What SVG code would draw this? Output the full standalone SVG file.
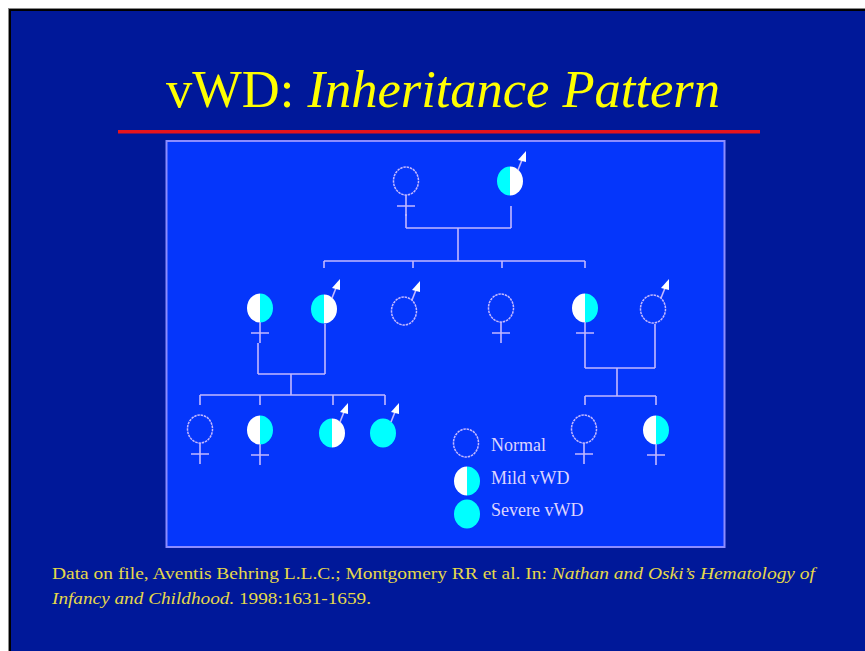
<svg xmlns="http://www.w3.org/2000/svg" xmlns:xlink="http://www.w3.org/1999/xlink" width="865" height="651" viewBox="0 0 865 651">
<style>
.ln{stroke:#c4b8ff;stroke-width:1.6;fill:none}
.open{fill:none;stroke:#c4b8ff;stroke-width:1.5;stroke-dasharray:2.5 0.8}
.cy{fill:#00ffff}
.wh{fill:#ffffff}
.title{font-family:"Liberation Serif",serif;font-size:52px;fill:#ffff00}
.leg{font-family:"Liberation Serif",serif;font-size:18px;fill:#ddd4ff}
.foot{font-family:"Liberation Serif",serif;font-size:16px;fill:#e6d84a}
</style>
<defs>
<g id="hwc"><path class="wh" d="M0,-14.5 A13,14.5 0 0 0 0,14.5 Z"/><path class="cy" d="M0,-14.5 A13,14.5 0 0 1 0,14.5 Z"/></g>
<g id="hcw"><path class="cy" d="M0,-14.5 A13,14.5 0 0 0 0,14.5 Z"/><path class="wh" d="M0,-14.5 A13,14.5 0 0 1 0,14.5 Z"/></g>
<g id="full"><ellipse class="cy" cx="0" cy="0" rx="13" ry="14.5"/></g>
<g id="open"><ellipse class="open" cx="0" cy="0" rx="12.5" ry="14"/></g>
<g id="cross"><path class="ln" d="M0,14 V35 M-9,25 H9"/></g>
<g id="arrow"><path class="ln" d="M8,-11 L12,-21" stroke="#ffffff"/><path d="M16,-30 L8,-21 L16,-19 Z" fill="#ffffff"/></g>
</defs>
<rect x="0" y="0" width="865" height="651" fill="#ffffff"/>
<rect x="8" y="8" width="857" height="643" fill="#8a8a8a"/>
<rect x="9" y="9" width="856" height="642" fill="#000000"/>
<rect x="11" y="11" width="854" height="640" fill="#001899"/>
<text class="title" x="166" y="107" textLength="554" lengthAdjust="spacingAndGlyphs">vWD: <tspan font-style="italic">Inheritance Pattern</tspan></text>
<rect x="118" y="130" width="642" height="3.5" fill="#e8141c"/>
<rect x="166.5" y="141" width="558" height="406" fill="#0536fb" stroke="#8c8cff" stroke-width="2"/>
<g id="connectors">
<path class="ln" d="M406,214 V228 M511,206 V228 M406,228 H511 M458,228 V261 M324,261 H585 M324,261 V268 M413,261 V268 M502,261 V268 M585,261 V268"/>
<path class="ln" d="M258,343 V374 M325,324 V374 M258,374 H325 M291,374 V395 M200,395 H385 M200,395 V405 M260,395 V405 M333,395 V405 M385,395 V405"/>
<path class="ln" d="M585,343 V368 M655,324 V368 M585,368 H655 M617,368 V396 M585,396 H656 M585,396 V405 M656,396 V405"/>
</g>
<g id="g1-female"><use xlink:href="#open" x="406" y="181"/><use xlink:href="#cross" x="406" y="181"/></g>
<g id="g1-male"><use xlink:href="#hcw" x="510" y="181"/><use xlink:href="#arrow" x="510" y="181"/></g>
<g id="g2-f1"><use xlink:href="#hwc" x="260" y="308"/><use xlink:href="#cross" x="260" y="308"/></g>
<g id="g2-m1"><use xlink:href="#hcw" x="324" y="309"/><use xlink:href="#arrow" x="324" y="309"/></g>
<g id="g2-m2"><use xlink:href="#open" x="404" y="311"/><use xlink:href="#arrow" x="404" y="311"/></g>
<g id="g2-f2"><use xlink:href="#open" x="501" y="308"/><use xlink:href="#cross" x="501" y="308"/></g>
<g id="g2-f3"><use xlink:href="#hwc" x="585" y="308"/><use xlink:href="#cross" x="585" y="308"/></g>
<g id="g2-m3"><use xlink:href="#open" x="653" y="309"/><use xlink:href="#arrow" x="653" y="309"/></g>
<g id="g3-f1"><use xlink:href="#open" x="200" y="429"/><use xlink:href="#cross" x="200" y="429"/></g>
<g id="g3-f2"><use xlink:href="#hwc" x="260" y="430"/><use xlink:href="#cross" x="260" y="430"/></g>
<g id="g3-m1"><use xlink:href="#hcw" x="332" y="433"/><use xlink:href="#arrow" x="332" y="433"/></g>
<g id="g3-m2"><use xlink:href="#full" x="383" y="433"/><use xlink:href="#arrow" x="383" y="433"/></g>
<g id="g3-f3"><use xlink:href="#open" x="584" y="429"/><use xlink:href="#cross" x="584" y="429"/></g>
<g id="g3-f4"><use xlink:href="#hwc" x="656" y="430"/><use xlink:href="#cross" x="656" y="430"/></g>
<g id="legend">
<use xlink:href="#open" x="466" y="443"/>
<use xlink:href="#hwc" x="467" y="481"/>
<use xlink:href="#full" x="467" y="514"/>
<text class="leg" x="491" y="451">Normal</text>
<text class="leg" x="491" y="484">Mild vWD</text>
<text class="leg" x="491" y="516">Severe vWD</text>
</g>
<text class="foot" x="52" y="579" textLength="763" lengthAdjust="spacingAndGlyphs">Data on file, Aventis Behring L.L.C.; Montgomery RR et al. In: <tspan font-style="italic">Nathan and Oski’s Hematology of</tspan></text>
<text class="foot" x="52" y="604" textLength="319" lengthAdjust="spacingAndGlyphs"><tspan font-style="italic">Infancy and Childhood.</tspan> 1998:1631-1659.</text>
</svg>
